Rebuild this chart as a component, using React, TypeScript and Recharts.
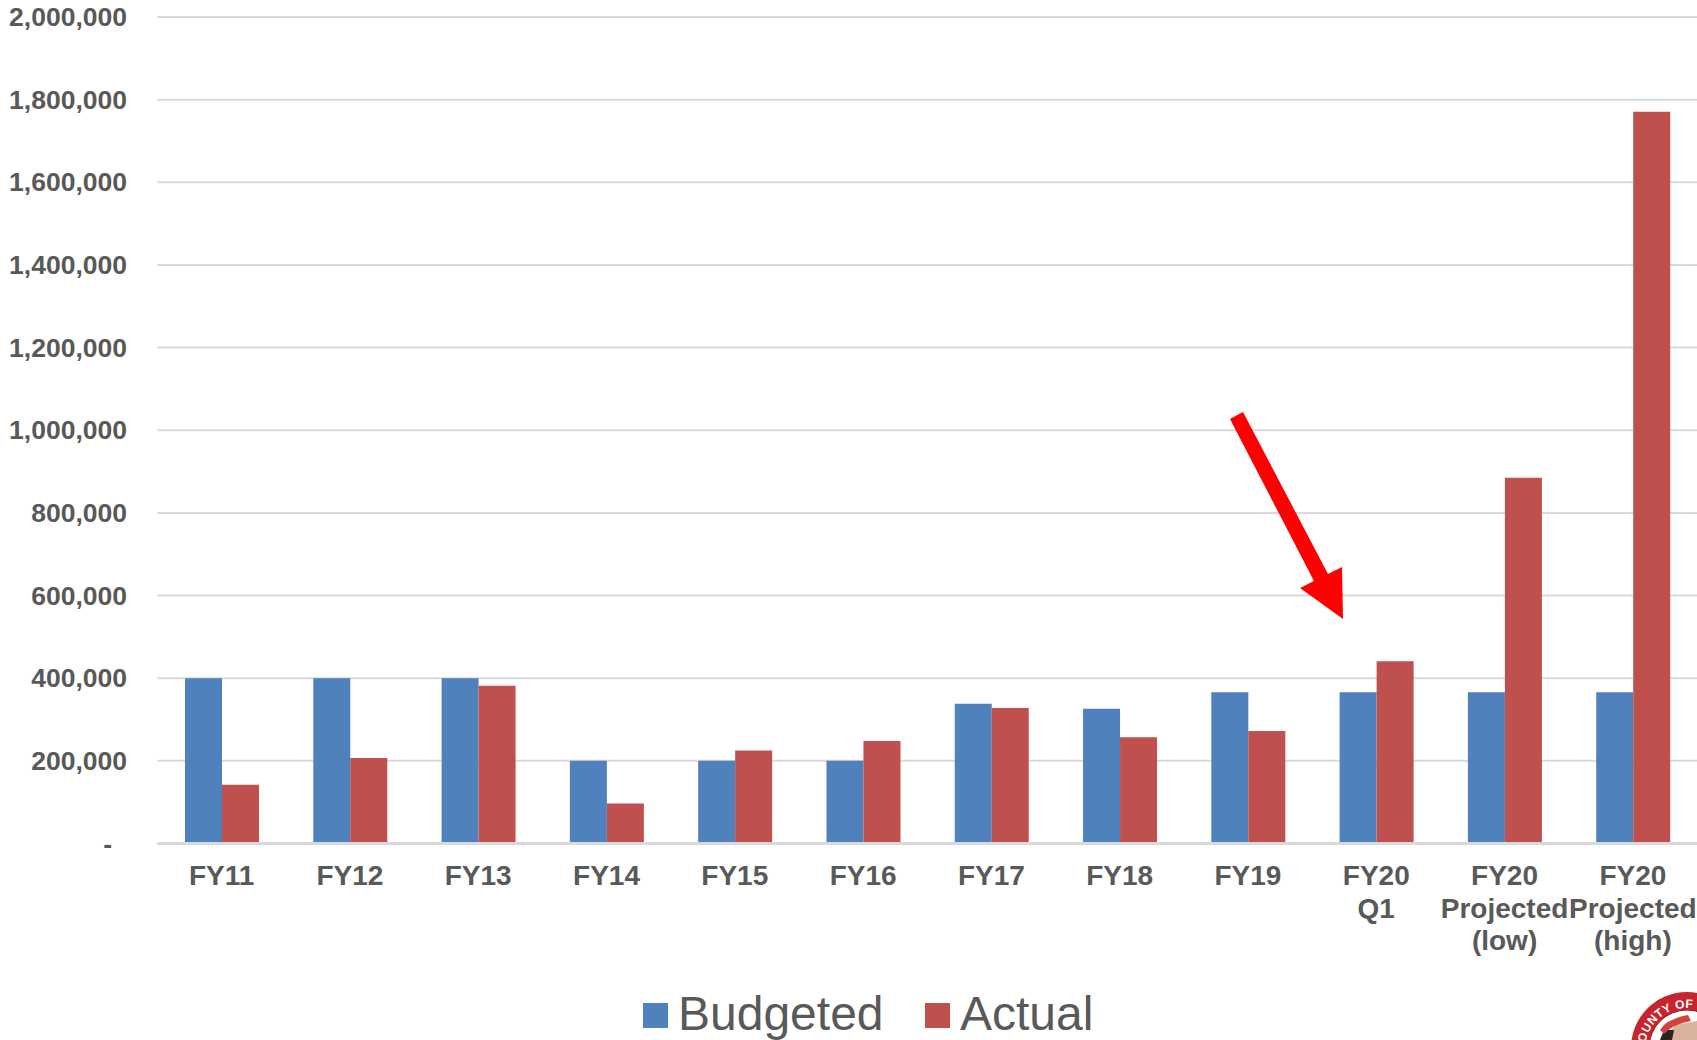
import { BarChart, Bar, CartesianGrid, Legend, XAxis, YAxis } from 'recharts';

const categories = ['FY11', 'FY12', 'FY13', 'FY14', 'FY15', 'FY16', 'FY17', 'FY18', 'FY19', 'FY20\nQ1', 'FY20\nProjected\n(low)', 'FY20\nProjected\n(high)'];
const budgeted = [400000, 400000, 400000, 200000, 200000, 200000, 338000, 326000, 366000, 366000, 366000, 366000];
const actual = [142000, 207000, 382000, 97000, 225000, 248000, 328000, 257000, 272000, 441000, 885000, 1771000];
const yTicks = [0, 200000, 400000, 600000, 800000, 1000000, 1200000, 1400000, 1600000, 1800000, 2000000];

const data = categories.map((name, i) => ({ name, Budgeted: budgeted[i], Actual: actual[i] }));

const FONT = '"Liberation Sans", Arial, sans-serif';
const TEXT = '#595959';
const GRID = '#d9d9d9';

function CategoryTick({ x, y, payload }: any) {
  return (
    <text x={x} y={y} textAnchor="middle" fontFamily={FONT} fontWeight="bold" fontSize={28} fill={TEXT}>
      {String(payload.value).split('\n').map((line, i) => (
        <tspan key={i} x={x} y={y + 33.5 + i * 32.5}>{line}</tspan>
      ))}
    </text>
  );
}

function ValueTick({ y, payload }: any) {
  const zero = payload.value === 0;
  return (
    <text x={zero ? 112 : 127} y={y + 9} textAnchor="end" fontFamily={FONT} fontWeight="bold" fontSize={26.5} fill={TEXT}>
      {zero ? '-' : payload.value.toLocaleString('en-US')}
    </text>
  );
}

function LegendRow({ payload }: any) {
  return (
    <div style={{ position: 'relative', height: 60, fontFamily: FONT, fontSize: 48, color: TEXT }}>
      {payload.map((item: any, i: number) => (
        <div key={item.value} style={{ position: 'absolute', left: i === 0 ? 643 : 925, top: 7, display: 'flex', alignItems: 'center', lineHeight: '54px', whiteSpace: 'nowrap' }}>
          <span style={{ display: 'inline-block', width: 25, height: 25, background: item.color, marginRight: 10, marginTop: 3 }} />
          {item.value}
        </div>
      ))}
    </div>
  );
}

export default function App() {
  return (
    <div style={{ position: 'absolute', left: 0, top: 0, width: 1697, height: 1040, overflow: 'hidden', background: '#fff' }}>
      <BarChart width={1697} height={1040} data={data} margin={{ top: 17, right: 0, bottom: 0, left: 0 }} barCategoryGap={27.5} barGap={0}>
        <CartesianGrid vertical={false} stroke={GRID} strokeWidth={2} />
        <XAxis dataKey="name" interval={0} height={136.5} axisLine={{ stroke: GRID, strokeWidth: 3 }} tickLine={false} tick={<CategoryTick />} />
        <YAxis width={157.5} domain={[0, 2000000]} ticks={yTicks} axisLine={false} tickLine={false} tick={<ValueTick />} />
        <Legend verticalAlign="bottom" height={60} itemSorter={null} content={<LegendRow />} />
        <Bar dataKey="Budgeted" fill="#4f81bd" isAnimationActive={false} />
        <Bar dataKey="Actual" fill="#c0504d" isAnimationActive={false} />
      </BarChart>
      {/* annotation arrow and seal sit on top of the chart */}
      <svg width={1697} height={1040} style={{ position: 'absolute', left: 0, top: 0, pointerEvents: 'none' }}>
        <polygon points="1230,419 1243,412 1328,574 1342,567 1343,619 1300,588 1314,581" fill="#ff0000" />
        <circle cx={1687} cy={1048} r={56} fill="#c8242b" />
        <circle cx={1687} cy={1048} r={38} fill="#fff" stroke="#8c1c20" strokeWidth={1} />
        <path id="sealArc" d="M1645,1052 A42,42 0 0 1 1729,1048" fill="none" />
        <text fontFamily={FONT} fontWeight="bold" fontSize={12} fill="#fff" letterSpacing={0.4}>
          <textPath href="#sealArc" startOffset={0}>COUNTY OF C</textPath>
        </text>
        <path d="M1672,1040 Q1669,1032 1675,1025 L1697,1021 L1697,1040 Z" fill="#d9b39b" />
        <path d="M1660,1040 L1664,1030 L1674,1030 L1672,1040 Z" fill="#2b2320" />
        <path d="M1660,1030 Q1666,1019 1688,1015 L1691,1021 Q1673,1024 1664,1034 Z" fill="#d0453f" />
      </svg>
    </div>
  );
}
